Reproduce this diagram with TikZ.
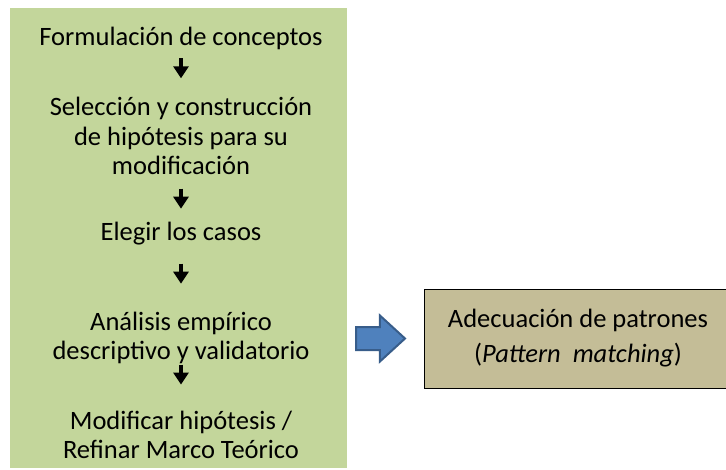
\documentclass[tikz,border=0pt]{standalone}
\usepackage{fontspec}
\setmainfont{Carlito}
\usepackage{xcolor}
\usetikzlibrary{trees,positioning,calc,arrows.meta,shapes.arrows}

\definecolor{panelgreen}{HTML}{C3D69B}
\definecolor{boxtan}{HTML}{C4BD97}
\definecolor{arrowblue}{HTML}{4F81BD}
\definecolor{arrowedge}{HTML}{385D8A}

\tikzset{
  stepbox/.style={align=center, inner sep=0pt, font=\fontsize{26.5}{29.5}\selectfont},
  downarrow/.style={line width=4.5pt, -{Triangle[length=12pt,width=15pt]}},
  arrowlift/.store in=\arrowlift, arrowlift=0,
}

\begin{document}
\begin{tikzpicture}[x=1pt, y=1pt,
    level distance=98pt, grow=down,
    level 3/.style={level distance=104pt},
    level 4/.style={level distance=97pt},
    edge from parent/.style={draw, downarrow},
    edge from parent path={($(\tikzparentnode.south)!.5!(\tikzchildnode.north)$) ++(0,10+\arrowlift) -- ++(0,-20)}]
    \useasboundingbox (0,0) rectangle (726,-469);
    \node [fill=panelgreen, minimum width=337pt, minimum height=460pt, inner sep=0pt] (panel) at (178.5,-238) {};
    \node [stepbox] (formul) at (181,-38) {Formulación de conceptos}
      child [arrowlift=5] {node [stepbox] (selec) {Selección y construcción\\de hipótesis para su\\modificación}
          child [arrowlift=0] {node [stepbox] (casos) {Elegir los casos}
              child [arrowlift=5] {node [stepbox] (analisis) {Análisis empírico\\descriptivo y validatorio}
                  child [arrowlift=13] {node [stepbox] (modif) {Modificar hipótesis /\\Refinar Marco Teórico}}
              }
          }
      };
    \node [draw=black, line width=1pt, fill=boxtan, minimum width=308pt, minimum height=99pt,
           align=center, font=\fontsize{26.5}{35}\selectfont] (patron) at (578,-338.5)
          {Adecuación de patrones\\(\textit{Pattern\ \ matching})};
    \node [single arrow, fill=arrowblue, draw=arrowedge, line width=2pt,
           inner xsep=0pt, inner ysep=10.5pt, text height=0pt, text depth=0pt,
           minimum height=49pt, single arrow head extend=11.5pt,
           single arrow tip angle=85, left=17pt of patron] (flecha) {};
\end{tikzpicture}
\end{document}
